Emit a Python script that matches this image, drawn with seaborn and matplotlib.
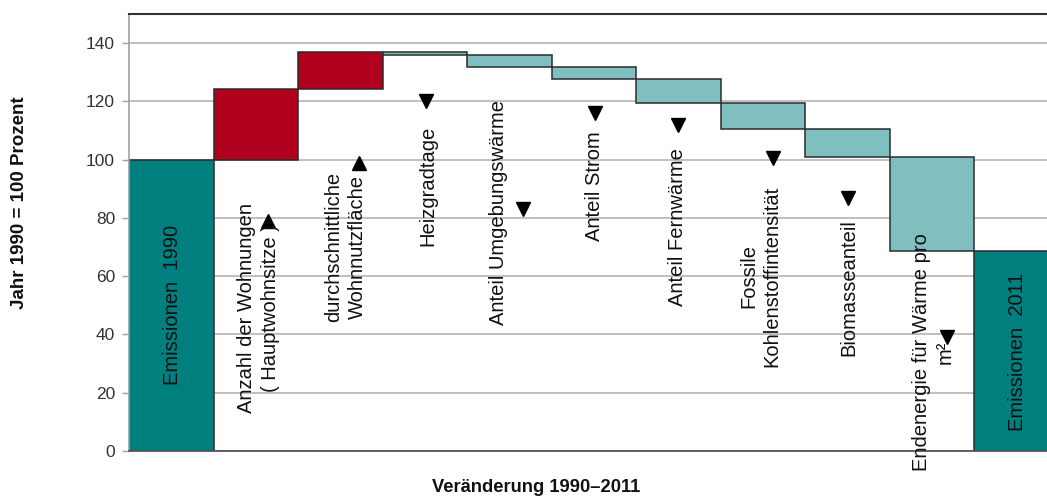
"""Waterfall: Veränderung der Emissionen 1990-2011 (Raumwärme)"""

import matplotlib
matplotlib.use("Agg")
import matplotlib.pyplot as plt
import numpy as np
import pandas as pd
import seaborn as sns

# --- data -------------------------------------------------------------
labels = [
    "Emissionen  1990",
    "Anzahl der Wohnungen\n( Hauptwohnsitze )",
    "durchschnittliche\nWohnnutzfläche",
    "Heizgradtage",
    "Anteil Umgebungswärme",
    "Anteil Strom",
    "Anteil Fernwärme",
    "Fossile\nKohlenstoffintensität",
    "Biomasseanteil",
    "Endenergie für Wärme pro\nm²",
    "Emissionen  2011",
]
kind = ["total", "up", "up", "down", "down", "down", "down", "down", "down", "down", "total"]
# running level (Jahr 1990 = 100) after each step
levels = [100.0, 124.2, 137.0, 135.8, 131.8, 127.8, 119.5, 110.4, 100.8, 68.7, 68.7]
trend = [None, "up", "up", "down", "down", "down", "down", "down", "down", "down", None]

# label / marker placement (data coords)
label_x = [0.01, 1.03, 2.06, 3.03, 3.87, 5.01, 5.99, 6.97, 8.01, 9.01, 10.01]
label_y = [50, 49, 70, 91, 82, 91, 77, 60, 56, 34, 34]
marker_x = [None, 1.14, 2.22, 3.01, 4.16, 5.01, 5.99, 7.12, 8.01, 9.17, None]
marker_y = [None, 79, 99, 120, 83, 116, 112, 100.5, 87, 39, None]

COLORS = {"total": "#007F7F", "up": "#B0001E", "down": "#80BFBF"}

# --- frame -------------------------------------------------------------
lows, heights = [], []
prev = 0.0
for k, lv in zip(kind, levels):
    if k == "total":
        lows.append(0.0)
        heights.append(lv)
    else:
        lows.append(min(prev, lv))
        heights.append(abs(lv - prev))
    prev = lv

df = pd.DataFrame({"step": [f"s{i}" for i in range(len(labels))], "low": lows, "height": heights})

sns.set_theme(style="white")
plt.rcParams["font.family"] = ["Liberation Sans", "DejaVu Sans"]

fig = plt.figure(figsize=(10.47, 4.97), dpi=100)
ax = fig.add_axes([129 / 1047, 1 - 451 / 497, 930 / 1047, 437 / 497])

sns.barplot(data=df, x="step", y="height", bottom=df["low"].values, width=1.0,
            color=COLORS["total"], saturation=1, errorbar=None,
            edgecolor="#2b2b2b", linewidth=1.1, ax=ax)
for patch, k in zip(ax.patches, kind):
    patch.set_facecolor(COLORS[k])

ax.set_ylim(0, 150)
ax.set_xlim(-0.5, len(labels) - 0.5)
ax.set_yticks(np.arange(0, 141, 20))
ax.set_xticks([])
ax.set_xlabel("")
ax.set_ylabel("")
ax.set_axisbelow(True)
ax.yaxis.grid(True, color="#b4b4b4", linewidth=1.2)
ax.tick_params(axis="y", left=True, length=5, width=1, color="#a0a0a0",
               labelsize=12.5, labelcolor="#333333", pad=5)

ax.spines["top"].set_color("#333333")
ax.spines["top"].set_linewidth(1.5)
ax.spines["left"].set_color("#a0a0a0")
ax.spines["left"].set_linewidth(1.2)
ax.spines["bottom"].set_color("#555555")
ax.spines["bottom"].set_linewidth(1.3)
ax.spines["right"].set_visible(False)

# category labels inside the plot
for x, y, s in zip(label_x, label_y, labels):
    ax.text(x, y, s, rotation=90, ha="center", va="center", multialignment="center",
            fontsize=14.5, color="#111111", linespacing=1.3)

# trend markers
for x, y, t in zip(marker_x, marker_y, trend):
    if t is None:
        continue
    ax.plot(x, y, marker="^" if t == "up" else "v", ms=10, color="black", ls="none")

fig.text(20 / 1047, 1 - 203 / 497, "Jahr 1990 = 100 Prozent", rotation=90,
         ha="center", va="center", fontsize=13.5, fontweight="bold", color="#111111")
fig.text(536 / 1047, 1 - 487 / 497, "Veränderung 1990–2011",
         ha="center", va="center", fontsize=13.2, fontweight="bold", color="#111111")

fig.savefig("out.png", dpi=100, facecolor="white")
